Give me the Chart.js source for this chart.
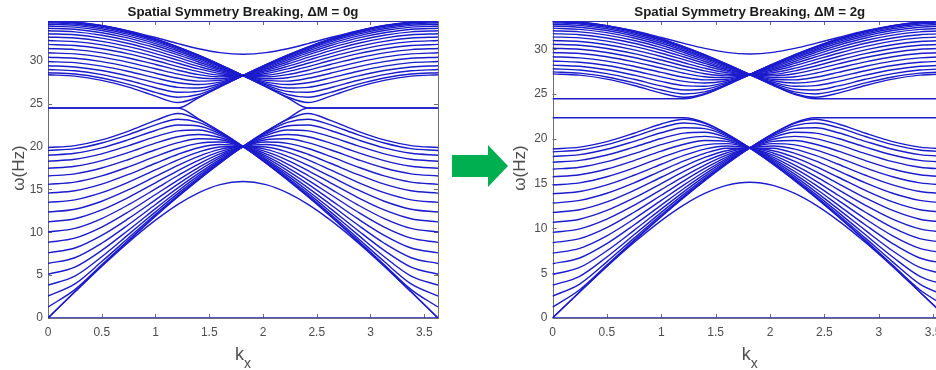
<!DOCTYPE html>
<html>
<head>
<meta charset="utf-8">
<title>Spatial Symmetry Breaking</title>
<script src="https://cdn.jsdelivr.net/npm/chart.js@4.4.1/dist/chart.umd.min.js"></script>
<style>
  html, body { margin: 0; padding: 0; background: #fff; overflow: hidden; }
  #wrap { position: relative; width: 936px; height: 370px; overflow: hidden; }
  #left { position: absolute; left: 0; top: 0; }
  #right { position: absolute; left: 460px; top: 0; }
  #arrow { position: absolute; left: 448px; top: 140px; }
</style>
</head>
<body>
<div id="wrap">
  <canvas id="left" width="460" height="370"></canvas>
  <canvas id="right" width="500" height="370"></canvas>
  <svg id="arrow" width="64" height="52" viewBox="0 0 64 52">
    <polygon points="4,15 40,15 40,5 60,26 40,47 40,37 4,37" fill="#00b050"/>
  </svg>
</div>
<script>
// wavenumber samples along k_x (one column of each band table per sample)
const K_X = [0, 0.25, 0.5, 0.75, 1.0, 1.209, 1.4, 1.6, 1.814, 2.028, 2.228, 2.419, 2.628, 2.878, 3.128, 3.378, 3.628];
const X_TICKS = [0, 0.5, 1, 1.5, 2, 2.5, 3, 3.5];
const Y_TICKS = [0, 5, 10, 15, 20, 25, 30];

// ---------- ΔM = 0g ----------
const LOWER_BANDS_0G = [
  [0, 3.05, 6.08, 9.02, 11.87, 14.14, 16.11, 18.07, 20, 21.76, 23.24, 24.49, 24.49, 24.49, 24.49, 24.49, 24.49],
  [1.28, 3.31, 6.21, 9.11, 11.93, 14.19, 16.15, 18.08, 20, 21.73, 23.13, 23.85, 23.04, 21.79, 20.77, 20.11, 19.88],
  [2.56, 3.98, 6.58, 9.35, 12.10, 14.32, 16.24, 18.14, 20, 21.63, 22.82, 23.18, 22.53, 21.39, 20.41, 19.75, 19.53],
  [3.84, 4.89, 7.15, 9.75, 12.38, 14.53, 16.39, 18.23, 20, 21.48, 22.40, 22.51, 21.87, 20.80, 19.85, 19.21, 18.98],
  [5.10, 5.93, 7.88, 10.27, 12.76, 14.82, 16.61, 18.35, 20, 21.29, 21.92, 21.83, 21.15, 20.10, 19.15, 18.51, 18.29],
  [6.36, 7.03, 8.72, 10.90, 13.24, 15.18, 16.87, 18.51, 20, 21.05, 21.41, 21.14, 20.40, 19.32, 18.36, 17.70, 17.47],
  [7.60, 8.16, 9.64, 11.61, 13.78, 15.61, 17.19, 18.70, 20, 20.79, 20.90, 20.45, 19.62, 18.49, 17.49, 16.81, 16.57],
  [8.82, 9.31, 10.60, 12.39, 14.40, 16.09, 17.55, 18.91, 20, 20.52, 20.37, 19.77, 18.84, 17.63, 16.57, 15.85, 15.59],
  [10.03, 10.45, 11.60, 13.22, 15.06, 16.62, 17.96, 19.14, 20, 20.23, 19.86, 19.10, 18.05, 16.75, 15.61, 14.84, 14.56],
  [11.21, 11.58, 12.61, 14.08, 15.77, 17.20, 18.39, 19.40, 20, 19.95, 19.35, 18.45, 17.27, 15.85, 14.62, 13.78, 13.48],
  [12.36, 12.69, 13.62, 14.96, 16.51, 17.81, 18.86, 19.67, 20, 19.67, 18.86, 17.81, 16.51, 14.96, 13.62, 12.69, 12.36],
  [13.48, 13.78, 14.62, 15.85, 17.27, 18.45, 19.35, 19.95, 20, 19.40, 18.39, 17.20, 15.77, 14.08, 12.61, 11.58, 11.21],
  [14.56, 14.84, 15.61, 16.75, 18.05, 19.10, 19.86, 20.23, 20, 19.14, 17.96, 16.62, 15.06, 13.22, 11.60, 10.45, 10.03],
  [15.59, 15.85, 16.57, 17.63, 18.84, 19.77, 20.37, 20.52, 20, 18.91, 17.55, 16.09, 14.40, 12.39, 10.60, 9.31, 8.82],
  [16.57, 16.81, 17.49, 18.49, 19.62, 20.45, 20.90, 20.79, 20, 18.70, 17.19, 15.61, 13.78, 11.61, 9.64, 8.16, 7.60],
  [17.47, 17.70, 18.36, 19.32, 20.40, 21.14, 21.41, 21.05, 20, 18.51, 16.87, 15.18, 13.24, 10.90, 8.72, 7.03, 6.36],
  [18.29, 18.51, 19.15, 20.10, 21.15, 21.83, 21.92, 21.29, 20, 18.35, 16.61, 14.82, 12.76, 10.27, 7.88, 5.93, 5.10],
  [18.98, 19.21, 19.85, 20.80, 21.87, 22.51, 22.40, 21.48, 20, 18.23, 16.39, 14.53, 12.38, 9.75, 7.15, 4.89, 3.84],
  [19.53, 19.75, 20.41, 21.39, 22.53, 23.18, 22.82, 21.63, 20, 18.14, 16.24, 14.32, 12.10, 9.35, 6.58, 3.98, 2.56],
  [19.88, 20.11, 20.77, 21.79, 23.04, 23.85, 23.13, 21.73, 20, 18.08, 16.15, 14.19, 11.93, 9.11, 6.21, 3.31, 1.28],
  [24.49, 24.49, 24.49, 24.49, 24.49, 24.49, 23.24, 21.76, 20, 18.07, 16.11, 14.14, 11.87, 9.02, 6.08, 3.05, 0]
];
const UPPER_BANDS_0G = [
  [34.64, 34.51, 34.10, 33.45, 32.54, 31.62, 30.66, 29.56, 28.28, 26.95, 25.68, 24.49, 24.49, 24.49, 24.49, 24.49, 24.49],
  [34.62, 34.48, 34.08, 33.42, 32.52, 31.60, 30.65, 29.55, 28.28, 26.98, 25.79, 25.13, 25.87, 26.93, 27.72, 28.21, 28.37],
  [34.55, 34.41, 34.01, 33.35, 32.46, 31.54, 30.60, 29.51, 28.28, 27.05, 26.07, 25.74, 26.32, 27.25, 27.99, 28.46, 28.61],
  [34.43, 34.29, 33.89, 33.24, 32.35, 31.45, 30.52, 29.46, 28.28, 27.18, 26.43, 26.33, 26.86, 27.70, 28.39, 28.83, 28.98],
  [34.26, 34.13, 33.73, 33.08, 32.20, 31.31, 30.40, 29.38, 28.28, 27.33, 26.82, 26.90, 27.43, 28.21, 28.86, 29.28, 29.42],
  [34.05, 33.92, 33.53, 32.88, 32.01, 31.14, 30.25, 29.28, 28.28, 27.51, 27.23, 27.44, 28.00, 28.75, 29.38, 29.78, 29.91],
  [33.80, 33.67, 33.27, 32.64, 31.78, 30.93, 30.07, 29.16, 28.28, 27.71, 27.63, 27.96, 28.55, 29.29, 29.90, 30.29, 30.42],
  [33.50, 33.37, 32.98, 32.35, 31.51, 30.68, 29.86, 29.03, 28.28, 27.91, 28.02, 28.44, 29.07, 29.82, 30.42, 30.80, 30.93],
  [33.16, 33.03, 32.64, 32.02, 31.19, 30.39, 29.62, 28.87, 28.28, 28.12, 28.39, 28.90, 29.57, 30.32, 30.92, 31.30, 31.43],
  [32.78, 32.65, 32.27, 31.65, 30.84, 30.07, 29.35, 28.70, 28.28, 28.32, 28.73, 29.32, 30.03, 30.80, 31.40, 31.78, 31.91],
  [32.36, 32.23, 31.85, 31.24, 30.45, 29.71, 29.06, 28.52, 28.28, 28.52, 29.06, 29.71, 30.45, 31.24, 31.85, 32.23, 32.36],
  [31.91, 31.78, 31.40, 30.80, 30.03, 29.32, 28.73, 28.32, 28.28, 28.70, 29.35, 30.07, 30.84, 31.65, 32.27, 32.65, 32.78],
  [31.43, 31.30, 30.92, 30.32, 29.57, 28.90, 28.39, 28.12, 28.28, 28.87, 29.62, 30.39, 31.19, 32.02, 32.64, 33.03, 33.16],
  [30.93, 30.80, 30.42, 29.82, 29.07, 28.44, 28.02, 27.91, 28.28, 29.03, 29.86, 30.68, 31.51, 32.35, 32.98, 33.37, 33.50],
  [30.42, 30.29, 29.90, 29.29, 28.55, 27.96, 27.63, 27.71, 28.28, 29.16, 30.07, 30.93, 31.78, 32.64, 33.27, 33.67, 33.80],
  [29.91, 29.78, 29.38, 28.75, 28.00, 27.44, 27.23, 27.51, 28.28, 29.28, 30.25, 31.14, 32.01, 32.88, 33.53, 33.92, 34.05],
  [29.42, 29.28, 28.86, 28.21, 27.43, 26.90, 26.82, 27.33, 28.28, 29.38, 30.40, 31.31, 32.20, 33.08, 33.73, 34.13, 34.26],
  [28.98, 28.83, 28.39, 27.70, 26.86, 26.33, 26.43, 27.18, 28.28, 29.46, 30.52, 31.45, 32.35, 33.24, 33.89, 34.29, 34.43],
  [28.61, 28.46, 27.99, 27.25, 26.32, 25.74, 26.07, 27.05, 28.28, 29.51, 30.60, 31.54, 32.46, 33.35, 34.01, 34.41, 34.55],
  [28.37, 28.21, 27.72, 26.93, 25.87, 25.13, 25.79, 26.98, 28.28, 29.55, 30.65, 31.60, 32.52, 33.42, 34.08, 34.48, 34.62],
  [24.49, 24.49, 24.49, 24.49, 24.49, 24.49, 25.68, 26.95, 28.28, 29.56, 30.66, 31.62, 32.54, 33.45, 34.10, 34.51, 34.64]
];
const ISOLATED_LOW_0G = [0, 3.05, 6.03, 8.85, 11.41, 13.26, 14.60, 15.56, 15.92, 15.56, 14.60, 13.26, 11.41, 8.85, 6.03, 3.05, 0];
const ISOLATED_HIGH_0G = [34.64, 34.51, 34.11, 33.49, 32.71, 32.00, 31.41, 30.95, 30.76, 30.95, 31.41, 32.00, 32.71, 33.49, 34.11, 34.51, 34.64];
const FLAT_0G = [0, 34.64];

// ---------- ΔM = 2g ----------
const LOWER_BANDS_2G = [
  [0, 2.91, 5.79, 8.60, 11.31, 13.47, 15.34, 17.18, 18.99, 20.60, 21.82, 22.36, 22.36, 22.36, 22.36, 22.36, 22.36],
  [1.22, 3.16, 5.92, 8.68, 11.36, 13.51, 15.37, 17.20, 18.99, 20.57, 21.73, 22.19, 21.67, 20.63, 19.70, 19.09, 18.88],
  [2.44, 3.79, 6.27, 8.92, 11.53, 13.63, 15.46, 17.25, 18.99, 20.48, 21.49, 21.77, 21.26, 20.27, 19.37, 18.76, 18.55],
  [3.66, 4.66, 6.82, 9.29, 11.80, 13.84, 15.61, 17.34, 18.99, 20.35, 21.15, 21.24, 20.69, 19.73, 18.85, 18.25, 18.04],
  [4.86, 5.65, 7.51, 9.79, 12.16, 14.11, 15.81, 17.45, 18.99, 20.17, 20.74, 20.65, 20.05, 19.09, 18.20, 17.60, 17.39],
  [6.06, 6.70, 8.31, 10.39, 12.61, 14.46, 16.06, 17.60, 18.99, 19.96, 20.29, 20.04, 19.36, 18.36, 17.46, 16.84, 16.62],
  [7.24, 7.78, 9.18, 11.06, 13.13, 14.86, 16.36, 17.78, 18.99, 19.72, 19.82, 19.41, 18.64, 17.58, 16.64, 16.00, 15.77],
  [8.41, 8.87, 10.10, 11.81, 13.71, 15.32, 16.70, 17.97, 18.99, 19.47, 19.34, 18.78, 17.91, 16.77, 15.77, 15.09, 14.85],
  [9.56, 9.96, 11.05, 12.59, 14.34, 15.82, 17.08, 18.19, 18.99, 19.21, 18.86, 18.16, 17.17, 15.94, 14.86, 14.13, 13.87],
  [10.68, 11.03, 12.01, 13.41, 15.02, 16.37, 17.49, 18.43, 18.99, 18.95, 18.39, 17.54, 16.44, 15.09, 13.93, 13.13, 12.84],
  [11.78, 12.09, 12.97, 14.25, 15.72, 16.94, 17.93, 18.68, 18.99, 18.68, 17.93, 16.94, 15.72, 14.25, 12.97, 12.09, 11.78],
  [12.84, 13.13, 13.93, 15.09, 16.44, 17.54, 18.39, 18.95, 18.99, 18.43, 17.49, 16.37, 15.02, 13.41, 12.01, 11.03, 10.68],
  [13.87, 14.13, 14.86, 15.94, 17.17, 18.16, 18.86, 19.21, 18.99, 18.19, 17.08, 15.82, 14.34, 12.59, 11.05, 9.96, 9.56],
  [14.85, 15.09, 15.77, 16.77, 17.91, 18.78, 19.34, 19.47, 18.99, 17.97, 16.70, 15.32, 13.71, 11.81, 10.10, 8.87, 8.41],
  [15.77, 16.00, 16.64, 17.58, 18.64, 19.41, 19.82, 19.72, 18.99, 17.78, 16.36, 14.86, 13.13, 11.06, 9.18, 7.78, 7.24],
  [16.62, 16.84, 17.46, 18.36, 19.36, 20.04, 20.29, 19.96, 18.99, 17.60, 16.06, 14.46, 12.61, 10.39, 8.31, 6.70, 6.06],
  [17.39, 17.60, 18.20, 19.09, 20.05, 20.65, 20.74, 20.17, 18.99, 17.45, 15.81, 14.11, 12.16, 9.79, 7.51, 5.65, 4.86],
  [18.04, 18.25, 18.85, 19.73, 20.69, 21.24, 21.15, 20.35, 18.99, 17.34, 15.61, 13.84, 11.80, 9.29, 6.82, 4.66, 3.66],
  [18.55, 18.76, 19.37, 20.27, 21.26, 21.77, 21.49, 20.48, 18.99, 17.25, 15.46, 13.63, 11.53, 8.92, 6.27, 3.79, 2.44],
  [18.88, 19.09, 19.70, 20.63, 21.67, 22.19, 21.73, 20.57, 18.99, 17.20, 15.37, 13.51, 11.36, 8.68, 5.92, 3.16, 1.22],
  [22.36, 22.36, 22.36, 22.36, 22.36, 22.36, 21.82, 20.60, 18.99, 17.18, 15.34, 13.47, 11.31, 8.60, 5.79, 2.91, 0]
];
const UPPER_BANDS_2G = [
  [33.17, 33.04, 32.66, 32.03, 31.18, 30.31, 29.41, 28.37, 27.19, 25.99, 24.98, 24.49, 24.49, 24.49, 24.49, 24.49, 24.49],
  [33.14, 33.02, 32.63, 32.01, 31.16, 30.29, 29.39, 28.36, 27.19, 26.02, 25.05, 24.65, 25.11, 25.97, 26.68, 27.12, 27.27],
  [33.08, 32.95, 32.57, 31.95, 31.10, 30.23, 29.34, 28.33, 27.19, 26.08, 25.26, 25.02, 25.46, 26.26, 26.92, 27.35, 27.49],
  [32.96, 32.84, 32.46, 31.84, 31.00, 30.14, 29.27, 28.27, 27.19, 26.19, 25.55, 25.47, 25.92, 26.66, 27.29, 27.69, 27.83],
  [32.81, 32.68, 32.30, 31.69, 30.86, 30.01, 29.16, 28.20, 27.19, 26.33, 25.88, 25.95, 26.42, 27.12, 27.72, 28.11, 28.24],
  [32.61, 32.48, 32.11, 31.50, 30.68, 29.85, 29.02, 28.11, 27.19, 26.49, 26.24, 26.43, 26.93, 27.62, 28.20, 28.57, 28.70],
  [32.37, 32.24, 31.87, 31.27, 30.46, 29.65, 28.85, 28.00, 27.19, 26.66, 26.60, 26.89, 27.43, 28.12, 28.69, 29.05, 29.18],
  [32.08, 31.96, 31.59, 30.99, 30.20, 29.42, 28.65, 27.87, 27.19, 26.85, 26.95, 27.34, 27.92, 28.61, 29.18, 29.54, 29.66],
  [31.76, 31.64, 31.27, 30.68, 29.90, 29.15, 28.43, 27.73, 27.19, 27.04, 27.28, 27.76, 28.38, 29.09, 29.65, 30.01, 30.13],
  [31.40, 31.28, 30.92, 30.33, 29.57, 28.85, 28.18, 27.57, 27.19, 27.22, 27.60, 28.15, 28.81, 29.53, 30.10, 30.46, 30.58],
  [31.00, 30.88, 30.52, 29.95, 29.21, 28.51, 27.90, 27.40, 27.19, 27.40, 27.90, 28.51, 29.21, 29.95, 30.52, 30.88, 31.00],
  [30.58, 30.46, 30.10, 29.53, 28.81, 28.15, 27.60, 27.22, 27.19, 27.57, 28.18, 28.85, 29.57, 30.33, 30.92, 31.28, 31.40],
  [30.13, 30.01, 29.65, 29.09, 28.38, 27.76, 27.28, 27.04, 27.19, 27.73, 28.43, 29.15, 29.90, 30.68, 31.27, 31.64, 31.76],
  [29.66, 29.54, 29.18, 28.61, 27.92, 27.34, 26.95, 26.85, 27.19, 27.87, 28.65, 29.42, 30.20, 30.99, 31.59, 31.96, 32.08],
  [29.18, 29.05, 28.69, 28.12, 27.43, 26.89, 26.60, 26.66, 27.19, 28.00, 28.85, 29.65, 30.46, 31.27, 31.87, 32.24, 32.37],
  [28.70, 28.57, 28.20, 27.62, 26.93, 26.43, 26.24, 26.49, 27.19, 28.11, 29.02, 29.85, 30.68, 31.50, 32.11, 32.48, 32.61],
  [28.24, 28.11, 27.72, 27.12, 26.42, 25.95, 25.88, 26.33, 27.19, 28.20, 29.16, 30.01, 30.86, 31.69, 32.30, 32.68, 32.81],
  [27.83, 27.69, 27.29, 26.66, 25.92, 25.47, 25.55, 26.19, 27.19, 28.27, 29.27, 30.14, 31.00, 31.84, 32.46, 32.84, 32.96],
  [27.49, 27.35, 26.92, 26.26, 25.46, 25.02, 25.26, 26.08, 27.19, 28.33, 29.34, 30.23, 31.10, 31.95, 32.57, 32.95, 33.08],
  [27.27, 27.12, 26.68, 25.97, 25.11, 24.65, 25.05, 26.02, 27.19, 28.36, 29.39, 30.29, 31.16, 32.01, 32.63, 33.02, 33.14],
  [24.49, 24.49, 24.49, 24.49, 24.49, 24.49, 24.98, 25.99, 27.19, 28.37, 29.41, 30.31, 31.18, 32.03, 32.66, 33.04, 33.17]
];
const ISOLATED_LOW_2G = [0, 2.91, 5.75, 8.43, 10.87, 12.63, 13.91, 14.81, 15.16, 14.81, 13.91, 12.63, 10.87, 8.43, 5.75, 2.91, 0];
const ISOLATED_HIGH_2G = [33.17, 33.04, 32.66, 32.08, 31.33, 30.67, 30.11, 29.67, 29.49, 29.67, 30.11, 30.67, 31.33, 32.08, 32.66, 33.04, 33.17];
const FLAT_2G = [0, 33.17];

// ---------- styling ----------
const BAND_COLOR = 'rgb(28,28,205)';
const AXIS_COLOR = '#6e6e6e';
const LABEL_COLOR = '#4d4d4d';
const FONT = '"Liberation Sans", Arial, Helvetica, sans-serif';

function curve(values) {
  return {
    data: K_X.map((k, i) => ({ x: k, y: values[i] })),
    borderColor: BAND_COLOR,
    borderWidth: 1.4,
    pointRadius: 0,
    fill: false,
    showLine: true,
    cubicInterpolationMode: 'monotone'
  };
}
function flat(level) {
  return {
    data: [{ x: K_X[0], y: level }, { x: K_X[K_X.length - 1], y: level }],
    borderColor: BAND_COLOR,
    borderWidth: 1.5,
    pointRadius: 0,
    fill: false,
    showLine: true
  };
}

// frame with inward ticks on all four sides, title and axis labels
const framePlugin = {
  id: 'frame',
  beforeDatasetsDraw(chart) {
    const { ctx, chartArea: a, scales: { x, y } } = chart;
    ctx.save();
    ctx.strokeStyle = AXIS_COLOR;
    ctx.lineWidth = 1;
    ctx.strokeRect(Math.round(a.left) + 0.5, Math.round(a.top) + 0.5,
                   Math.round(a.right - a.left), Math.round(a.bottom - a.top));
    ctx.beginPath();
    X_TICKS.forEach(v => {
      const px = Math.round(x.getPixelForValue(v)) + 0.5;
      ctx.moveTo(px, a.bottom); ctx.lineTo(px, a.bottom - 4);
      ctx.moveTo(px, a.top); ctx.lineTo(px, a.top + 4);
    });
    Y_TICKS.forEach(v => {
      const py = Math.round(y.getPixelForValue(v)) + 0.5;
      ctx.moveTo(a.left, py); ctx.lineTo(a.left + 4, py);
      ctx.moveTo(a.right, py); ctx.lineTo(a.right - 4, py);
    });
    ctx.stroke();
    ctx.restore();
  },
  afterDraw(chart, args, opts) {
    const { ctx, chartArea: a } = chart;
    const cx = (a.left + a.right) / 2;
    ctx.save();
    // title
    ctx.fillStyle = '#1a1a1a';
    ctx.font = 'bold 13.3px ' + FONT;
    ctx.textAlign = 'center';
    ctx.textBaseline = 'alphabetic';
    ctx.fillText(opts.title, cx, 15.5);
    // y label
    ctx.fillStyle = LABEL_COLOR;
    ctx.font = '17px ' + FONT;
    ctx.translate(opts.yLabelX, 168);
    ctx.rotate(-Math.PI / 2);
    ctx.textAlign = 'center';
    ctx.textBaseline = 'middle';
    ctx.fillText('\u03C9(Hz)', 0, 0);
    ctx.setTransform(1, 0, 0, 1, 0, 0);
    // x label with subscript
    ctx.font = '18px ' + FONT;
    const wk = ctx.measureText('k').width;
    ctx.font = '14px ' + FONT;
    const wx = ctx.measureText('x').width;
    const start = cx - (wk + wx) / 2;
    ctx.textAlign = 'left';
    ctx.textBaseline = 'alphabetic';
    ctx.font = '18px ' + FONT;
    ctx.fillText('k', start, 360);
    ctx.font = '14px ' + FONT;
    ctx.fillText('x', start + wk, 368);
    ctx.restore();
  }
};

function buildChart(id, cfg) {
  const datasets = [];
  cfg.flat.forEach(v => datasets.push(flat(v)));
  cfg.lower.forEach(r => datasets.push(curve(r)));
  cfg.upper.forEach(r => datasets.push(curve(r)));
  datasets.push(curve(cfg.isoLow));
  datasets.push(curve(cfg.isoHigh));
  const canvas = document.getElementById(id);
  return new Chart(canvas, {
    type: 'scatter',
    data: { datasets },
    plugins: [framePlugin],
    options: {
      responsive: false,
      animation: false,
      events: [],
      layout: { padding: { left: 0, top: 21, right: canvas.width - cfg.areaRight, bottom: 0 } },
      plugins: {
        legend: { display: false },
        tooltip: { enabled: false },
        frame: { title: cfg.title, yLabelX: cfg.yLabelX }
      },
      scales: {
        x: {
          type: 'linear', min: 0, max: K_X[K_X.length - 1],
          afterBuildTicks: s => { s.ticks = X_TICKS.map(v => ({ value: v })); },
          afterFit: s => { s.height = 52; },
          grid: { display: false, drawTicks: false },
          border: { display: false },
          ticks: { autoSkip: false, maxRotation: 0, padding: 7, color: LABEL_COLOR,
                   font: { family: FONT, size: 12 }, callback: v => String(v) }
        },
        y: {
          type: 'linear', min: 0, max: cfg.ymax,
          afterBuildTicks: s => { s.ticks = Y_TICKS.map(v => ({ value: v })); },
          afterFit: s => { s.width = cfg.areaLeft; },
          grid: { display: false, drawTicks: false },
          border: { display: false },
          ticks: { autoSkip: false, padding: 5, color: LABEL_COLOR,
                   font: { family: FONT, size: 12 }, callback: v => String(v) }
        }
      }
    }
  });
}

buildChart('left', {
  title: 'Spatial Symmetry Breaking, \u0394M = 0g',
  lower: LOWER_BANDS_0G, upper: UPPER_BANDS_0G,
  isoLow: ISOLATED_LOW_0G, isoHigh: ISOLATED_HIGH_0G,
  flat: FLAT_0G, ymax: FLAT_0G[1],
  areaLeft: 48, areaRight: 438, yLabelX: 19
});
buildChart('right', {
  title: 'Spatial Symmetry Breaking, \u0394M = 2g',
  lower: LOWER_BANDS_2G, upper: UPPER_BANDS_2G,
  isoLow: ISOLATED_LOW_2G, isoHigh: ISOLATED_HIGH_2G,
  flat: FLAT_2G, ymax: FLAT_2G[1],
  areaLeft: 92.5, areaRight: 487, yLabelX: 60
});
</script>
</body>
</html>
